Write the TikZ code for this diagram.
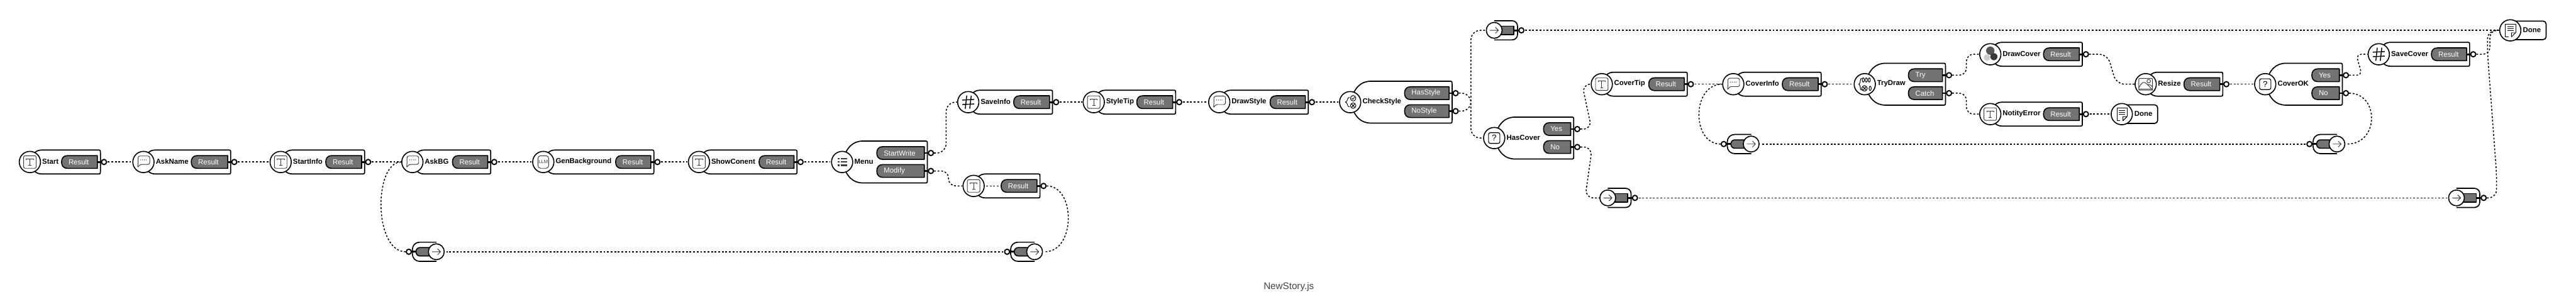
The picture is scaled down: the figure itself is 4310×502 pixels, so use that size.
\documentclass[tikz,border=0pt]{standalone}
\usepackage{fontspec}
\setmainfont{Liberation Sans}
\tikzset{
  x=1pt,y=-1pt,
  outline/.style={line width=1.8pt,draw=black,fill=white,line join=round},
  pillbody/.style={line width=1.7pt,draw=black,fill=pillgray,line join=round},
  iconnode/.style={circle,draw=black,fill=white,line width=1.7pt,minimum size=35.5pt,inner sep=0pt},
  jumpnode/.style={circle,draw=black,fill=white,line width=1.7pt,minimum size=26.5pt,inner sep=0pt},
  ringnode/.style={circle,draw=black,fill=white,line width=2pt,minimum size=8.5pt,inner sep=0pt},
  titletext/.style={font=\fontsize{12}{12}\selectfont\bfseries,anchor=west,inner sep=0pt,text=black},
  pilltext/.style={font=\fontsize{12}{12}\selectfont,anchor=west,inner sep=0pt,text=white},
  bar/.style={line width=3pt,draw=black},
  conn/.style={line width=1.6pt,draw=black,dash pattern=on 3pt off 3pt},
  thinline/.style={line width=1pt,draw=icongray,fill=none,line join=round},
  iconT/.pic={
    \draw[thinline,rounded corners=2.5pt] (-10.5,-10.5) rectangle (10.5,10.5);
    \draw[thinline] (-6,-3.5)--(-6,-5.5)--(6,-5.5)--(6,-3.5) (0,-5.5)--(0,6) (-2.5,6)--(2.5,6);
  },
  iconChat/.pic={
    \draw[thinline,rounded corners=3pt] (-9,-10)--(10.5,-10)--(10.5,4)--(-6,4)--(-10,10)--(-9,4)--cycle;
    \foreach \dx in {-4.5,-1.5,1.5,4.5} \fill[icongray] (\dx,-3.5) circle[radius=0.75pt];
  },
  iconLLM/.pic={
    \draw[thinline,rounded corners=4.5pt] (-9,-10.5) rectangle (9,10.5);
    \node[inner sep=0pt,text=icongray,font=\fontsize{8}{8}\selectfont] (llmtext) at (0,0) {LLM};
  },
  iconHash/.pic={
    \draw[line width=1.5pt] (-2.5,-11)--(-5,11) (5,-11)--(2.5,11) (-10,-3.5)--(10,-4.5) (-10,4)--(10,3);
  },
  iconList/.pic={
    \draw[line width=2.5pt,draw=icongray] (-7,-5.5)--(-4.5,-5.5) (-2,-5.5)--(8,-5.5) (-7,0)--(-4.5,0) (-2,0)--(8,0) (-7,5.5)--(-4.5,5.5) (-2,5.5)--(8,5.5);
  },
  iconQ/.pic={
    \draw[line width=1.2pt,rounded corners=3pt] (-9.5,-9) rectangle (9.5,9);
    \node[inner sep=0pt,font=\fontsize{14}{14}\selectfont] (qmark) at (0,0) {?};
  },
  iconCheck/.pic={
    \draw[thinline,draw=black] (5,-6.5) circle[radius=4.6pt] (5,5.8) circle[radius=4.6pt];
    \draw[thinline,draw=black] (2.7,-6.5)--(4.4,-4.6)--(7.5,-8.5) (2.5,3.3)--(7.5,8.3) (7.5,3.3)--(2.5,8.3);
    \draw[thinline,draw=black] (-1,-8) .. controls (-6,-8) and (-3,-1) .. (-8,0) .. controls (-3,1) and (-6,8) .. (-1,8);
  },
  iconTry/.pic={
    \foreach \ex in {-2.5,2.5,7.5} \draw[line width=1.1pt] (\ex,-7) circle[x radius=1.8pt,y radius=3.6pt];
    \draw[line width=1.1pt] (9,7) circle[x radius=1.8pt,y radius=3.6pt];
    \draw[line width=1.1pt] (-0.5,7) circle[radius=4.6pt];
    \draw[line width=1.1pt] (-3,4.5)--(2,9.5) (2,4.5)--(-3,9.5);
    \draw[line width=1.1pt] (-5,-10) .. controls (-9,-10) and (-6,-1) .. (-10,0) .. controls (-6,1) and (-9,10) .. (-5,10);
  },
  iconCover/.pic={
    \fill[gray!40] (-5.6,5.6) circle[radius=5.5pt];
    \fill[cgraya] (0,-6) circle[radius=7pt];
    \fill[cgrayb] (6,4) circle[radius=6pt];
  },
  iconImage/.pic={
    \draw[thinline,rounded corners=1pt] (-11.5,-9.5) rectangle (11.5,10);
    \draw[thinline] (-11.5,6) .. controls (-8,0) and (-6,-3) .. (-3,-3) .. controls (0,-3) and (4,1) .. (11.5,10);
    \draw[thinline] (3,1.5) .. controls (6,0) and (9,1) .. (11.5,5);
    \draw[thinline] (5,-5) circle[radius=3pt];
    \draw[thinline] (-11.5,8)--(11.5,8);
  },
  iconDoc/.pic={
    \draw[thinline,draw=black] (-3,11)--(-8,11)--(-8,-10)--(9,-10)--(9,4);
    \draw[thinline,draw=black] (2,4)--(9,4)--(2,11)--cycle;
    \draw[thinline,draw=black] (-5,-6)--(6,-6) (-5,-3)--(6,-3) (-5,0)--(6,0);
  },
  iconArrow/.pic={
    \draw[thinline] (-7,0)--(7,0) (2,-5)--(7,0)--(2,5);
  }
}
\definecolor{pillgray}{HTML}{737373}
\definecolor{icongray}{HTML}{3A3A3A}
\definecolor{cgraya}{HTML}{555555}
\definecolor{cgrayb}{HTML}{3A3A3A}
\definecolor{titlegray}{HTML}{444444}
\newcommand\BoxBody[4]{% cx cy halfheight right
  \draw[outline] (#1+#3,#2-#3) -- (#4-5,#2-#3) .. controls (#4,#2-#3) .. (#4,#2-#3+5) -- (#4,#2+#3-5) .. controls (#4,#2+#3) .. (#4-5,#2+#3) -- (#1+#3,#2+#3) .. controls (#1+0.5*#3,#2+#3) and (#1+0.2*#3,#2+0.7*#3) .. (#1,#2) .. controls (#1+0.2*#3,#2-0.7*#3) and (#1+0.5*#3,#2-#3) .. (#1+#3,#2-#3) -- cycle;
}
\newcommand\PillPort[6]{% name, y, left, right, text, textname
  \draw[pillbody] (#3+10,#2-10.7) -- (#4-5,#2-10.7) -- (#4-5,#2+10.7) -- (#3+10,#2+10.7) .. controls (#3+3,#2+10.7) and (#3,#2+6) .. (#3,#2) .. controls (#3,#2-6) and (#3+3,#2-10.7) .. (#3+10,#2-10.7) -- cycle;
  \node[pilltext] (#6) at (#3+11.5,#2) {#5};
  \draw[bar] (#4-5,#2) -- (#4+2,#2);
  \node[ringnode] (#1) at (#4+6,#2) {};
}
\newcommand\ResNode[7]{% name cx cy label pillleft boxright icon
  \BoxBody{#2}{#3}{20}{#6}
  \node[iconnode] (#1) at (#2,#3) {};
  \pic at (#2,#3) {#7};
  \node[titletext] (#1L) at (#2+20.5,#3-1) {#4};
  \PillPort{#1R}{#3}{#5}{#6}{Result}{#1P}
}
\newcommand\BrNode[9]{% name cx cy label pillleft boxright icon text1 text2
  \BoxBody{#2}{#3}{35}{#6}
  \node[iconnode] (#1) at (#2,#3) {};
  \pic at (#2,#3) {#7};
  \node[titletext] (#1L) at (#2+20.5,#3-1) {#4};
  \PillPort{#1A}{#3-15}{#5}{#6}{#8}{#1PA}
  \PillPort{#1B}{#3+15}{#5}{#6}{#9}{#1PB}
}
\newcommand\DoneNode[3]{% name cx cy
  \draw[outline,rounded corners=5pt] (#2,#3-15.5) -- (#2+60,#3-15.5) -- (#2+60,#3+15.5) -- (#2,#3+15.5);
  \node[iconnode] (#1) at (#2,#3) {};
  \pic at (#2,#3) {iconDoc};
  \node[titletext] (#1L) at (#2+21,#3-1) {Done};
}
\newcommand\JumpOut[3]{% name, circle cx, cy : arrow at left, ring at right
  \draw[outline,rounded corners=9pt] (#2,#3-16) -- (#2+39,#3-16) -- (#2+39,#3+16) -- (#2,#3+16);
  \draw[pillbody] (#2+10,#3-7) rectangle (#2+33,#3+7);
  \draw[bar] (#2+33,#3) -- (#2+42,#3);
  \node[ringnode] (#1R) at (#2+45.5,#3) {};
  \node[jumpnode] (#1) at (#2,#3) {};
  \pic at (#2,#3) {iconArrow};
}
\newcommand\JumpIn[3]{% name, circle cx, cy : ring at left, arrow at right
  \draw[outline,rounded corners=12pt] (#2,#3-16) -- (#2-40,#3-16) -- (#2-40,#3+16) -- (#2,#3+16);
  \draw[pillbody,rounded corners=6.5pt] (#2,#3-7) -- (#2-34,#3-7) -- (#2-34,#3+7) -- (#2,#3+7);
  \draw[bar] (#2-34,#3) -- (#2-42,#3);
  \node[ringnode] (#1R) at (#2-46,#3) {};
  \node[jumpnode] (#1) at (#2,#3) {};
  \pic at (#2,#3) {iconArrow};
}
\begin{document}
\begin{tikzpicture}
\useasboundingbox (0,0) rectangle (4310,502);
% nodes
\ResNode{start}{50}{270.7}{Start}{103}{168}{iconT}
\ResNode{askname}{240}{270.7}{AskName}{320}{386}{iconChat}
\ResNode{startinfo}{469.6}{270.7}{StartInfo}{545}{610}{iconT}
\ResNode{askbg}{690}{270.7}{AskBG}{757}{821}{iconChat}
\ResNode{genbg}{909}{270.7}{GenBackground}{1030}{1094}{iconLLM}
\ResNode{show}{1169.5}{270.7}{ShowConent}{1270}{1333.5}{iconT}
\BrNode{menu}{1409}{270.7}{Menu}{1467}{1551.5}{iconList}{StartWrite}{Modify}
\ResNode{saveinfo}{1620}{170.7}{SaveInfo}{1696}{1761}{iconHash}
\ResNode{anon}{1629}{310.7}{}{1675}{1740}{iconT}
\coordinate (anonDashA) at (1650,310.7);
\coordinate (anonDashB) at (1671,310.7);
\draw[conn] (anonDashA) -- (anonDashB);
\ResNode{styletip}{1830}{170.7}{StyleTip}{1902}{1967}{iconT}
\ResNode{drawstyle}{2040}{170.7}{DrawStyle}{2125}{2189}{iconChat}
\BrNode{checkstyle}{2259}{170.7}{CheckStyle}{2350}{2429.5}{iconCheck}{HasStyle}{NoStyle}
\BrNode{hascover}{2500}{230.7}{HasCover}{2582.5}{2633}{iconQ}{Yes}{No}
\ResNode{covertip}{2680}{140.7}{CoverTip}{2758.5}{2823}{iconT}
\ResNode{coverinfo}{2900}{140.7}{CoverInfo}{2982}{3047}{iconChat}
\BrNode{trydraw}{3120}{140.7}{TryDraw}{3193}{3255}{iconTry}{Try}{Catch}
\ResNode{drawcover}{3330}{90.7}{DrawCover}{3419}{3484}{iconCover}
\ResNode{notify}{3330}{190.7}{NotityError}{3419}{3484}{iconT}
\DoneNode{doneA}{3550}{190.7}
\ResNode{resize}{3590}{140.7}{Resize}{3654}{3719}{iconImage}
\BrNode{coverok}{3790}{140.7}{CoverOK}{3868}{3919}{iconQ}{Yes}{No}
\ResNode{savecover}{3980}{90.7}{SaveCover}{4068}{4132}{iconHash}
\DoneNode{doneB}{4200}{50.7}
\JumpOut{joA}{2500}{50.7}
\JumpOut{joB}{2690}{330.7}
\JumpOut{joC}{4110}{330.7}
\JumpIn{jiA}{730}{420.7}
\JumpIn{jiB}{1731}{420.7}
\JumpIn{jiC}{2930}{240.7}
\JumpIn{jiD}{3910}{240.7}
% straight connectors
\foreach \a/\b in {startR/askname,asknameR/startinfo,startinfoR/askbg,askbgR/genbg,genbgR/show,showR/menu,saveinfoR/styletip,styletipR/drawstyle,drawstyleR/checkstyle,covertipR/coverinfo,coverinfoR/trydraw,notifyR/doneA,resizeR/coverok,joAR/doneB,joBR/joC}
  \draw[conn,shorten <=1pt,shorten >=1pt] (\a.east) -- (\b.west);
\draw[conn,shorten <=1pt,shorten >=3pt] (jiBR.west) -- (jiA.east);
\draw[conn,shorten <=1pt,shorten >=3pt] (jiDR.west) -- (jiC.east);
% routed connectors
\draw[conn,rounded corners=16pt] (menuA.east) -- (1583,255.7) -- (1583,170.7) -- (saveinfo.west);
\draw[conn,rounded corners=12pt] (menuB.east) -- (1587,285.7) -- (1587,310.7) -- (anon.west);
\draw[conn,rounded corners=16pt] (checkstyleA.east) -- (2461,155.7) -- (2461,230.7) -- (hascover.west);
\draw[conn,rounded corners=16pt] (checkstyleB.east) -- (2461,185.7) -- (2461,50.7) -- (joA.west);
\draw[conn,rounded corners=14pt] (hascoverA.east) -- (2663,215.7) -- (2647,140.7) -- (covertip.west);
\draw[conn,rounded corners=14pt] (hascoverB.east) -- (2664,245.7) -- (2652,330.7) -- (joB.west);
\draw[conn,rounded corners=12pt] (trydrawA.east) -- (3290,125.7) -- (3290,90.7) -- (drawcover.west);
\draw[conn,rounded corners=12pt] (trydrawB.east) -- (3290,155.7) -- (3290,190.7) -- (notify.west);
\draw[conn,rounded corners=14pt] (drawcoverR.east) -- (3526,90.7) -- (3541,140.7) -- (resize.west);
\draw[conn,rounded corners=9pt] (coverokA.east) -- (3952,125.7) -- (3942,90.7) -- (savecover.west);
\draw[conn,rounded corners=12pt] (savecoverR.east) -- (4166,90.7) -- (4166,50.7) -- (doneB.west);
\draw[conn,rounded corners=14pt] (joCR.east) -- (4177,330.7) -- (4177,290) -- (4162,90) -- (4162,50.7) -- (doneB.west);
\draw[conn] (jiAR.west) .. controls (625,420.7) and (625,270.7) .. (askbg.west);
\draw[conn] (jiCR.west) .. controls (2830,240.7) and (2830,140.7) .. (coverinfo.west);
\draw[conn,shorten >=3pt] (anonR.east) .. controls (1800,310.7) and (1800,420.7) .. (jiB.east);
\draw[conn,shorten >=3pt] (coverokB.east) .. controls (3981,155.7) and (3981,240.7) .. (jiD.east);
% title
\node[anchor=base west,inner sep=0pt,text=titlegray,font=\fontsize{16}{16}\selectfont] (title) at (2114,483) {NewStory.js};
\end{tikzpicture}
\end{document}
